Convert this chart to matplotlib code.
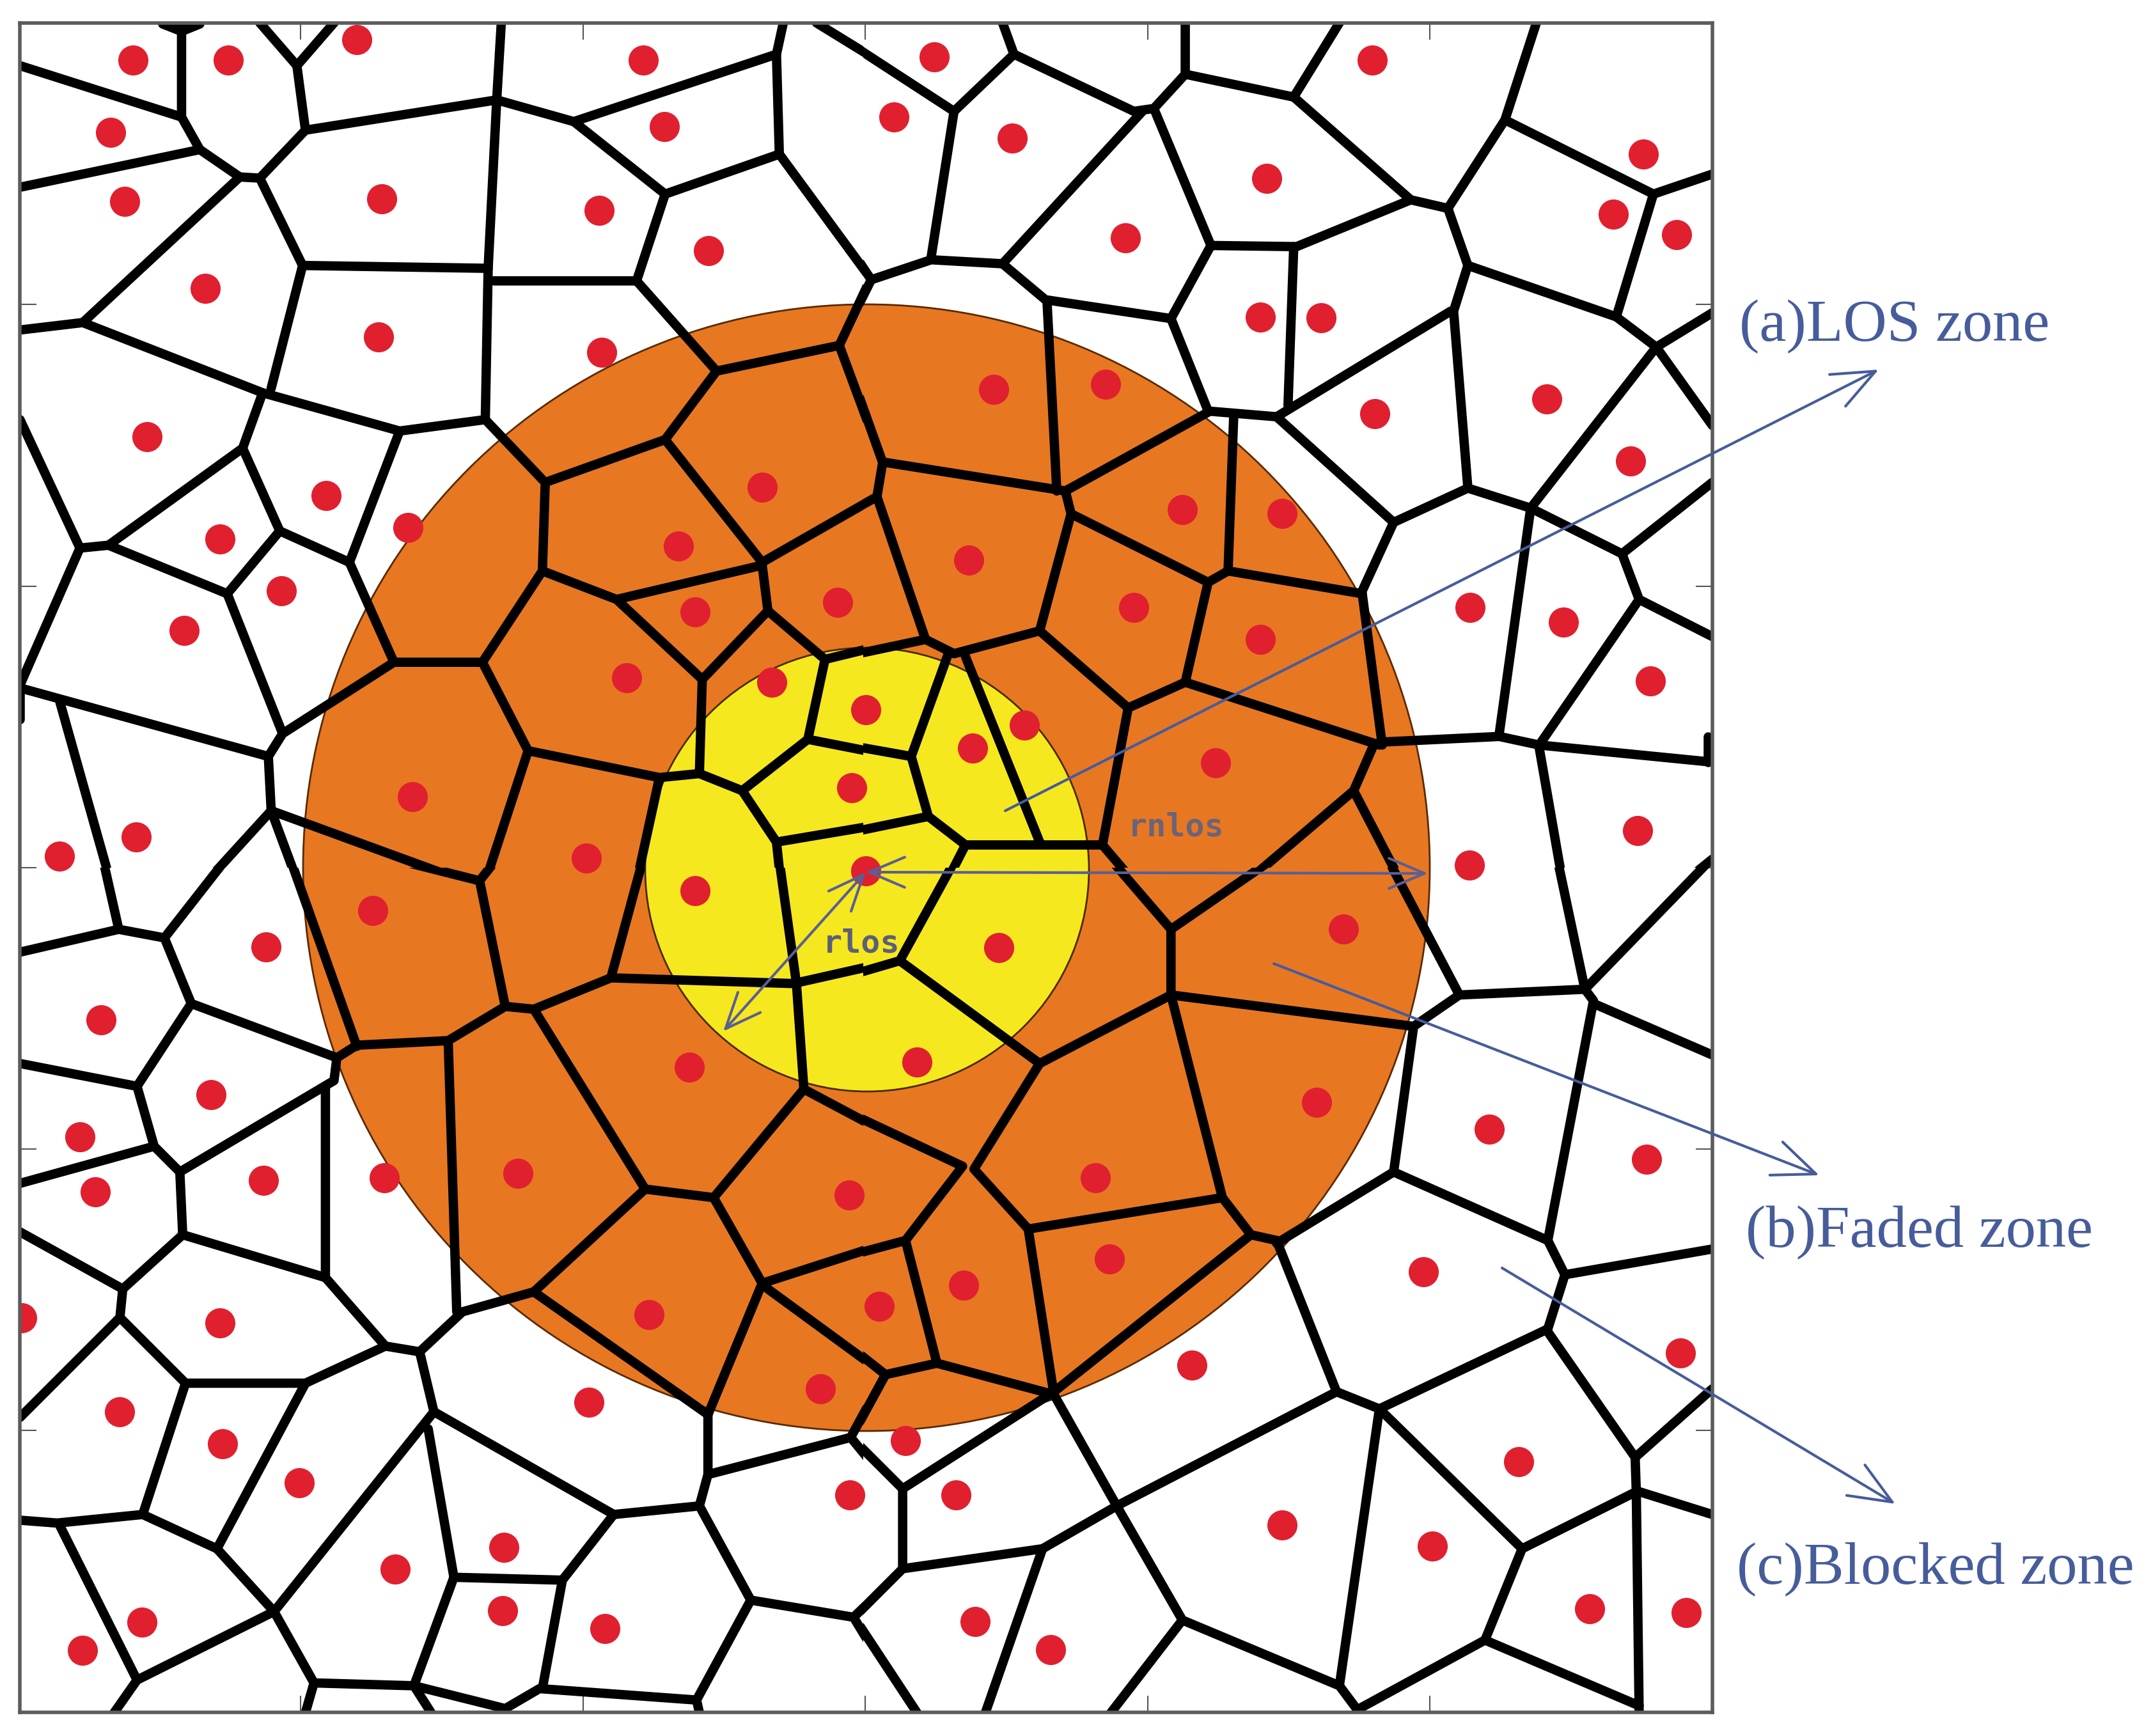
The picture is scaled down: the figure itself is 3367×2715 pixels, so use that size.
import matplotlib
matplotlib.use("Agg")
import matplotlib.pyplot as plt
from matplotlib.patches import Circle, Rectangle

W, H = 3367, 2715
ZOOM = 1.12  # the tables below were read at this scale, one table per quadrant
SEAM_X, SEAM_Y = 1350, 1357

# cell walls, (x, y) runs per quadrant
edges_tl = [
    [(318,40),(318,205),(350,262),(420,310),(455,312)], [(35,115),(318,205)], [(285,42),(318,55),(350,42)],
    [(35,328),(350,262)], [(455,40),(520,115),(585,40)], [(520,115),(535,228),(455,312)],
    [(535,228),(870,175),(1005,213),(1360,95)], [(878,40),(870,175),(855,470),(850,735)],
    [(1372,40),(1360,95),(1365,270),(1525,488),(1568,475)], [(1005,213),(1165,340),(1365,270)],
    [(1165,340),(1115,492),(865,492)], [(1430,40),(1568,125)], [(1525,488),(1470,605),(1546,810),(1536,870)],
    [(420,310),(145,565),(35,578)], [(145,565),(460,688),(700,755),(850,735),(950,840)],
    [(455,312),(530,465),(855,470)], [(530,465),(475,680)], [(460,688),(425,785),(190,955),(140,960),(35,735)],
    [(700,755),(612,985),(490,930),(425,785)], [(490,930),(398,1040),(190,955)], [(612,985),(690,1160),(845,1160),(950,1000),(955,845),(1165,770),(1255,650),(1115,492)],
    [(140,960),(35,1200)], [(398,1040),(495,1285),(470,1325),(475,1420)], [(35,1205),(470,1325)], [(690,1160),(495,1285)],
    [(1255,650),(1470,605)], [(1165,770),(1335,985),(1536,870)], [(950,1000),(1080,1050),(1335,990),(1345,1070),(1230,1190),(1080,1050)],
    [(1345,1070),(1445,1155),(1568,1125)], [(1445,1155),(1415,1295),(1568,1325)], [(1230,1190),(1225,1355),(1300,1385),(1415,1295)],
    [(845,1160),(925,1315),(1155,1362),(1225,1355)], [(925,1315),(845,1560)], [(1300,1385),(1360,1475),(1370,1568)],
    [(1360,1475),(1568,1440)], [(1155,1362),(1110,1568)], [(475,1420),(845,1555)], [(475,1420),(340,1568)],
    [(475,1420),(530,1568)], [(105,1230),(200,1568)], [(35,1190),(35,1260)],
]
edges_tr = [
    [(0,55),(215,195),(320,95),(300,40)], [(320,95),(530,195),(565,190),(620,130),(620,40)], [(620,130),(810,170),(890,40)],
    [(810,170),(1015,350),(1080,365),(1180,210),(1235,40)], [(1180,210),(1440,340),(1543,305)], [(1440,340),(1375,555)],
    [(215,195),(175,450)], [(0,385),(70,490),(175,455),(300,462),(545,195)], [(565,190),(665,430),(815,432),(1015,350)],
    [(70,490),(15,600),(90,810),(80,870),(0,915)],
    [(810,432),(800,710)], [(300,462),(375,525),(595,558),(665,430)], [(595,558),(660,720),(780,730),(1085,545)],
    [(1080,365),(1115,465),(1090,545),(1115,855)], [(1115,465),(1375,555),(1445,608),(1543,548)], [(1445,608),(1543,745)],
    [(1445,608),(1225,890)], [(780,730),(985,915),(1115,855),(1225,890),(1385,970),(1543,845)],
    [(1385,970),(1415,1050),(1543,1115)], [(1415,1050),(1240,1305)], [(1225,890),(1170,1285)], [(985,915),(930,1035)],
    [(378,530),(395,860)], [(660,722),(410,860),(95,810)], [(410,860),(420,900),(365,1105),(215,1145),(165,1120),(80,870)],
    [(420,900),(660,1020),(695,1000),(930,1040)], [(705,725),(695,1000)], [(660,1020),(620,1195),(520,1240),(365,1105)],
    [(165,1120),(0,1155)], [(205,1145),(140,1325),(0,1300)], [(235,1150),(365,1475)], [(140,1325),(170,1430),(235,1480),(470,1480)],
    [(170,1430),(0,1465)], [(235,1480),(190,1568)], [(520,1240),(475,1480),(550,1568)], [(620,1195),(960,1305)],
    [(930,1040),(965,1305)], [(960,1300),(1170,1290),(1240,1305),(1543,1335)], [(950,1305),(915,1385),(700,1568)],
    [(915,1385),(1010,1568)], [(1240,1310),(1285,1568)], [(1535,1290),(1535,1335)], [(1543,1505),(1465,1568)],
]
edges_bl = [
    [(173,0),(208,155),(288,170),(421,0)], [(35,195),(208,155)], [(288,170),(335,285),(240,430),(35,390)],
    [(240,430),(270,535),(315,580),(320,690)], [(35,600),(270,535)], [(315,580),(585,420),(590,380)], [(335,285),(590,380)],
    [(497,0),(625,360)], [(590,380),(625,358),(785,350),(885,290),(935,295),(1070,240),(1390,250),(1568,210)],
    [(840,70),(885,290)], [(563,0),(840,70),(895,0)], [(1135,0),(1070,240)], [(1360,0),(1395,250),(1408,435),(1568,520)],
    [(935,295),(1130,610),(1250,625),(1408,435)], [(1250,625),(1335,775),(1568,700)], [(1335,775),(1240,1005)],
    [(1345,785),(1550,935),(1568,930)], [(1550,935),(1490,1045)], [(1130,610),(935,790),(1240,1005)], [(935,790),(810,825),(735,895),(675,885)],
    [(785,350),(800,825)], [(570,430),(570,765),(675,885)], [(320,690),(570,765)], [(320,690),(215,785),(35,685)],
    [(215,785),(210,835),(35,1010)], [(210,835),(325,950),(535,950),(675,885)], [(325,950),(250,1180)], [(535,950),(380,1240)],
    [(35,1190),(100,1195),(250,1180),(380,1240),(480,1350)], [(735,895),(760,1000),(480,1350)], [(760,1000),(1075,1180),(1225,1165)],
    [(750,1030),(795,1290),(985,1295),(1075,1180)], [(1240,1005),(1240,1110),(1225,1165)], [(1240,1110),(1490,1045),(1568,1140)],
    [(985,1295),(950,1485)], [(795,1290),(725,1480)], [(480,1350),(550,1475),(725,1480),(885,1520),(945,1485),(1220,1505),(1315,1330)],
    [(550,1475),(535,1527)], [(1225,1165),(1315,1330),(1495,1360),(1568,1290)], [(1495,1360),(1568,1480)], [(1220,1505),(1225,1527)],
    [(480,1350),(240,1470),(105,1200)], [(240,1470),(200,1527)], [(725,1480),(755,1527)],
]
edges_br = [
    [(470,10),(230,10),(120,210),(0,245)], [(120,210),(365,390),(595,270),(595,155),(820,0)], [(470,10),(595,155)], [(958,0),(1100,270)],
    [(595,270),(1020,325)], [(595,270),(685,625),(735,690),(780,700)], [(365,390),(250,575),(345,680),(685,625)],
    [(0,462),(230,570),(130,700),(0,735)], [(130,700),(185,915),(95,935),(0,860)], [(95,935),(35,1045),(125,1135),(125,1275),(370,1240),(500,1165)],
    [(185,915),(390,970),(345,680)], [(735,690),(390,965),(125,1135)], [(125,1275),(40,1360),(0,1350)], [(40,1360),(150,1527)],
    [(370,1240),(270,1527)], [(390,970),(500,1165),(885,965),(960,995),(1255,855)], [(500,1165),(615,1365),(890,1480),(925,1527)],
    [(615,1365),(490,1527)], [(780,700),(885,965)], [(960,995),(890,1480)], [(960,995),(1210,1240),(1410,1140),(1415,1527)],
    [(1210,1240),(1145,1400),(1415,1515)], [(1145,1400),(925,1520)], [(1410,1140),(1408,1080),(1255,860)], [(1408,1080),(1543,960)],
    [(1415,1140),(1543,1180)], [(1255,855),(1285,760),(1255,700),(985,580),(780,705)], [(1285,760),(1543,715)],
    [(1255,700),(1335,280),(1320,260),(1265,0)], [(985,580),(1020,325),(1100,270),(1320,260),(1543,30)], [(1335,285),(1543,375)],
]

# base stations
sites_tl = [(233,105),(400,105),(625,70),(1127,105),(194,232),(218,353),(669,348),(1164,222),(1049,369),(1241,439),
            (359,505),(663,590),(1054,617),(258,765),(571,868),(715,924),(385,944),(493,1035),(322,1104),(1335,853),
            (1188,956),(1217,1072),(1467,1055),(1098,1187),(722,1395),(1027,1503),(1352,1195),(1517,1243),(1492,1380),
            (238,1466),(104,1500)]
sites_tr = [(180,100),(110,205),(317,242),(947,105),(763,313),(515,417),(1422,270),(1370,375),(1481,411),(752,555),
            (858,557),(952,725),(1253,699),(1400,808),(284,682),(481,673),(615,893),(790,899),(241,981),(530,1064),
            (752,1120),(1119,1064),(1282,1090),(1435,1193),(673,1336),(247,1310),(338,1270),(1412,1455),(1118,1515),(60,1525)]
sites_bl = [(1217,87),(653,122),(466,186),(177,314),(370,445),(140,518),(167,615),(461,595),(673,590),(907,582),(1207,396),
            (1487,620),(1540,815),(1437,960),(1137,830),(38,835),(385,844),(1031,983),(209,1000),(390,1056),(524,1125),
            (1488,1146),(882,1238),(692,1276),(880,1348),(1060,1380),(249,1369),(144,1418)]
sites_br = [(293,187),(150,388),(897,155),(850,458),(1153,505),(1428,558),(462,590),(487,732),(232,778),(130,1050),
            (1037,755),(632,918),(1487,897),(218,1146),(1204,1087),(790,1198),(1053,1235),(252,1368),(384,1417),(1328,1345),(1497,1352)]

ticks_x = [470, 912, 1353, 1795, 2236]
ticks_y = [476, 917, 1357, 1797, 2237]

labels = ["(a)LOS zone", "(b)Faded zone", "(c)Blocked zone"]
label_xy = [(2720, 533), (2730, 1950), (2716, 2476)]
pointers = [((1572, 1268), (2938, 578)), ((1992, 1507), (2845, 1838)), ((2349, 1983), (2964, 2352))]
bs_xy = (1354, 1364)
los_end = (1131, 1613)
nlos_end = (2233, 1366)
BLUE = "#465c9b"


def to_px(points, off):
    xs = [p[0] / ZOOM + off[0] for p in points]
    ys = [p[1] / ZOOM + off[1] for p in points]
    return xs, ys


fig = plt.figure(figsize=(W / 100, H / 100), dpi=100, facecolor="white")
ax = fig.add_axes([31 / W, 1 - 2678 / H, (2678 - 31) / W, (2678 - 36) / H])
ax.set_xlim(31, 2678)
ax.set_ylim(2678, 36)

ax.add_patch(Circle((1355, 1357), 881, fc="#e87722", ec="#5a2a00", lw=2.0, zorder=1))
ax.add_patch(Circle((1356, 1360), 347, fc="#f6e81e", ec="#4a2a00", lw=2.0, zorder=2))

quadrants = [(edges_tl, sites_tl, (0, 0), (31, 36, SEAM_X - 31, SEAM_Y - 36)),
             (edges_tr, sites_tr, (1300, 0), (SEAM_X, 36, 2678 - SEAM_X, SEAM_Y - 36)),
             (edges_bl, sites_bl, (0, 1315), (31, SEAM_Y, SEAM_X - 31, 2678 - SEAM_Y)),
             (edges_br, sites_br, (1300, 1315), (SEAM_X, SEAM_Y, 2678 - SEAM_X, 2678 - SEAM_Y))]
for edges, sites, off, box in quadrants:
    # each table stops at the seam so overlapping run ends do not double up
    clip = Rectangle(box[:2], box[2], box[3], transform=ax.transData)
    for run in edges:
        xs, ys = to_px(run, off)
        line, = ax.plot(xs, ys, color="black", lw=10.5, solid_capstyle="round", solid_joinstyle="round", zorder=3)
        line.set_clip_path(clip)
    xs, ys = to_px(sites, off)
    ax.scatter(xs, ys, s=1150, color="#e0202f", linewidths=0, zorder=4)

ax.set_xticks(ticks_x)
ax.set_yticks(ticks_y)
ax.tick_params(direction="in", length=19, width=1.5, color="#555555", top=True, right=True,
               labelbottom=False, labelleft=False)
for s in ax.spines.values():
    s.set_linewidth(4)
    s.set_color("#5c5c5c")
    s.set_zorder(6)

# zone pointers
for (start, end) in pointers:
    ax.annotate("", xy=end, xytext=start, annotation_clip=False, zorder=7,
                arrowprops=dict(arrowstyle="->,head_length=48,head_width=20", color=BLUE, lw=3,
                                shrinkA=0, shrinkB=0, mutation_scale=1))
for end in (los_end, nlos_end):
    ax.annotate("", xy=end, xytext=bs_xy, annotation_clip=False, zorder=7,
                arrowprops=dict(arrowstyle="<->,head_length=40,head_width=17", color="#5a5f95", lw=3,
                                shrinkA=0, shrinkB=0, mutation_scale=1))

ax.text(1287, 1490, "rlos", fontsize=36, family="DejaVu Sans Mono", color="#5c5f78", fontweight="bold",
        va="baseline", zorder=8)
ax.text(1764, 1308, "rnlos", fontsize=36, family="DejaVu Sans Mono", color="#6a6478", fontweight="bold",
        va="baseline", zorder=8)

for txt, xy in zip(labels, label_xy):
    ax.text(xy[0], xy[1], txt, fontsize=68, family="Liberation Serif", color=BLUE, va="baseline", clip_on=False)

fig.savefig("out.png", dpi=100)
